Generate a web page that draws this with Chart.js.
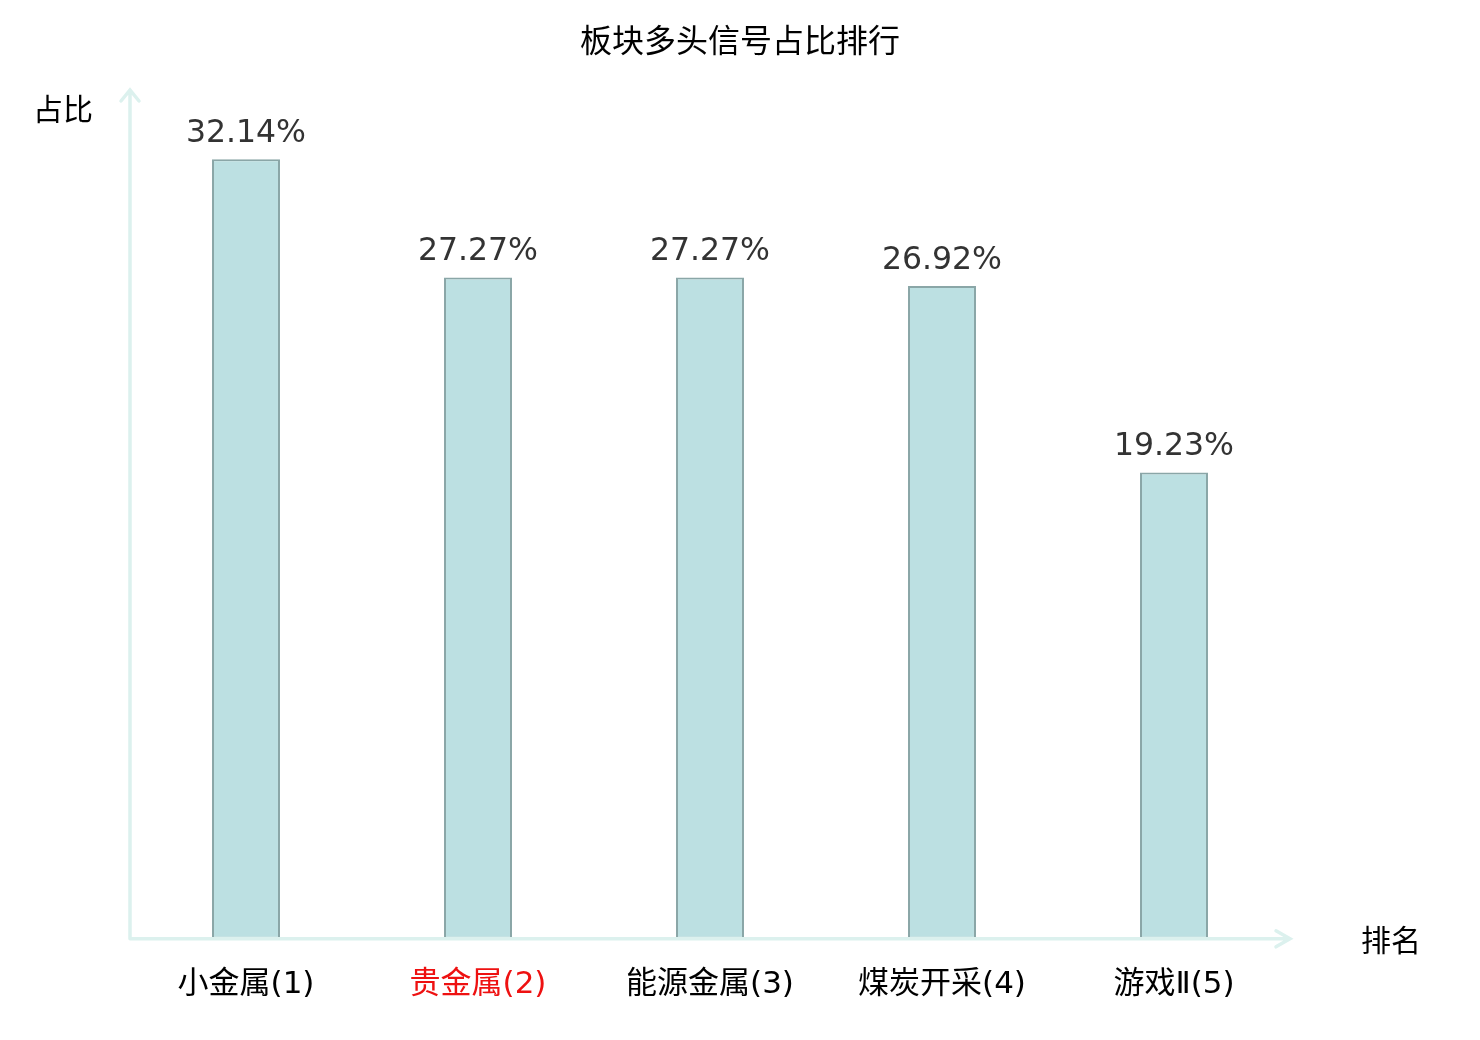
<!DOCTYPE html>
<html>
<head>
<meta charset="utf-8">
<script src="https://cdn.jsdelivr.net/npm/chart.js@4"></script>
<style>
  html, body { margin: 0; padding: 0; background: #fff; }
  #wrap { width: 1480px; height: 1040px; position: relative; }
</style>
</head>
<body>
<div id="wrap"><canvas id="myChart" width="1480" height="1040"></canvas></div>
<script>
const categories = ['小金属(1)', '贵金属(2)', '能源金属(3)', '煤炭开采(4)', '游戏Ⅱ(5)'];
const values = [32.14, 27.27, 27.27, 26.92, 19.23];
const valueLabels = ['32.14%', '27.27%', '27.27%', '26.92%', '19.23%'];
const labelColors = ['#000000', '#ee1111', '#000000', '#000000', '#000000'];
const chartTitle = '板块多头信号占比排行';

const cjk = '"DejaVu Sans", "Noto Sans CJK SC", sans-serif';
const axisColor = '#dcf1ee';

// title, axes with arrow heads, axis names, value labels over bars
const decorPlugin = {
  id: 'decor',
  afterDatasetsDraw(chart) {
    const ctx = chart.ctx;
    const area = chart.chartArea;
    const x0 = area.left, y0 = area.bottom;
    ctx.save();
    ctx.strokeStyle = axisColor;
    ctx.lineWidth = 3.5;
    ctx.lineCap = 'round';
    ctx.beginPath();
    ctx.moveTo(x0, y0); ctx.lineTo(x0, area.top);
    ctx.moveTo(x0 - 9, area.top + 11); ctx.lineTo(x0, area.top); ctx.lineTo(x0 + 9, area.top + 11);
    ctx.moveTo(x0, y0); ctx.lineTo(area.right, y0);
    ctx.moveTo(area.right - 14, y0 - 8); ctx.lineTo(area.right, y0); ctx.lineTo(area.right - 14, y0 + 8);
    ctx.stroke();

    ctx.fillStyle = '#000';
    ctx.textAlign = 'center';
    ctx.textBaseline = 'middle';
    ctx.font = '32px ' + cjk;
    ctx.fillText(chartTitle, 740, 44);
    ctx.font = '30px ' + cjk;
    ctx.fillText('占比', 63, 112);
    ctx.fillText('排名', 1391, 943);

    ctx.fillStyle = '#333';
    ctx.font = '31.5px ' + cjk;
    ctx.textBaseline = 'alphabetic';
    const meta = chart.getDatasetMeta(0);
    meta.data.forEach((bar, i) => {
      ctx.fillText(valueLabels[i], bar.x, bar.y - 17);
    });
    ctx.restore();
  }
};

const ctx = document.getElementById('myChart').getContext('2d');
new Chart(ctx, {
  type: 'bar',
  data: {
    labels: categories,
    datasets: [{
      data: values,
      backgroundColor: '#bce0e2',
      borderColor: '#8aa6a7',
      borderWidth: 2,
      borderSkipped: false,
      barPercentage: 0.293,
      categoryPercentage: 1
    }]
  },
  options: {
    responsive: false,
    animation: false,
    layout: { padding: { left: 130, right: 190, top: 90, bottom: 16 } },
    plugins: {
      legend: { display: false },
      tooltip: { enabled: false },
      title: { display: false }
    },
    scales: {
      x: {
        grid: { display: false },
        border: { display: false },
        ticks: {
          color: labelColors,
          font: { family: cjk, size: 31 },
          padding: 20,
          maxRotation: 0
        }
      },
      y: {
        display: false,
        min: 0,
        max: 35
      }
    }
  },
  plugins: [decorPlugin]
});
</script>
</body>
</html>
